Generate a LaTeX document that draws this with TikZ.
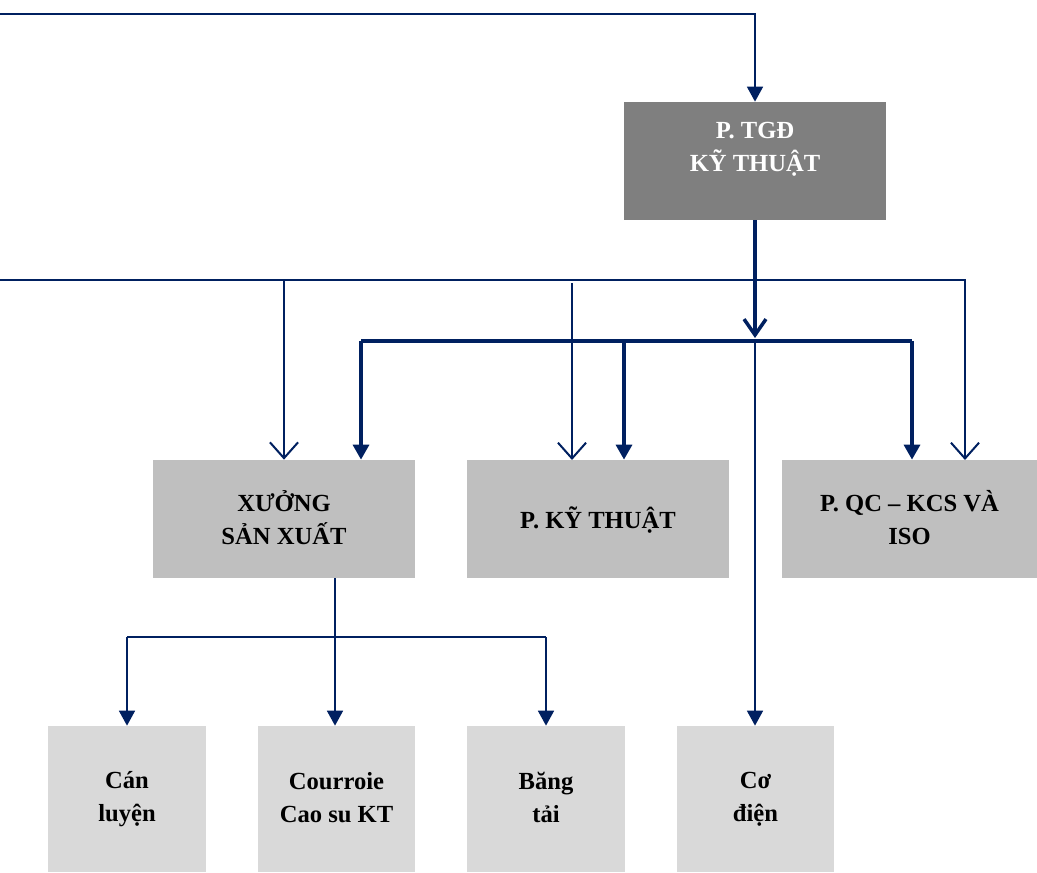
\documentclass[tikz,border=0pt]{standalone}
\usepackage{fontspec}
\setmainfont{Liberation Serif}
\usetikzlibrary{arrows.meta}
\definecolor{navy}{HTML}{002060}
\definecolor{darkbox}{HTML}{7F7F7F}
\definecolor{midbox}{HTML}{BFBFBF}
\definecolor{lowbox}{HTML}{D9D9D9}
\newcommand{\linestrut}{\rule[-2pt]{0pt}{16pt}}
\tikzset{
	unit/.style={rectangle, inner sep=0pt, align=center, font=\bfseries\fontsize{14}{18.8}\selectfont,
		execute at begin node=\linestrut, execute at end node=\linestrut},
	tgdbox/.style={unit, fill=darkbox, text=white, minimum width=5.24cm, minimum height=2.36cm},
	dept/.style={unit, fill=midbox, minimum width=5.24cm, minimum height=2.36cm},
	shop/.style={unit, fill=lowbox, minimum width=3.16cm, minimum height=2.92cm},
	link/.style={draw=navy, line width=1.15pt},
	trunk/.style={draw=navy, line width=2pt},
	solidtip/.style={-{Triangle[width=9pt,length=8.5pt]}},
	opentip/.style={-{Straight Barb[width=16pt,length=9pt]}},
	bigopentip/.style={-{Straight Barb[width=12.5pt,length=9pt]}}
}
\begin{document}
\begin{tikzpicture}[x=0.02cm, y=-0.02cm]
	\useasboundingbox (0,0) rectangle (1037,872);

	\node[tgdbox] (tgd) at (755,161) {P. TGĐ\\KỸ THUẬT\\[-5pt]\mbox{}};
	\node[dept] (xuong) at (284,519) {XƯỞNG\\SẢN XUẤT};
	\node[dept] (kythuat) at (598,519) {P. KỸ THUẬT};
	\node[dept, minimum width=5.1cm] (qc) at (909.5,519) {P. QC – KCS VÀ\\ISO};
	\node[shop] (canluyen) at (127,799) {Cán\\luyện};
	\node[shop] (courroie) at (336.5,799) {Courroie\\Cao su KT};
	\node[shop] (bangtai) at (546,799) {Băng\\tải};
	\node[shop] (codien) at (755.5,799) {Cơ\\điện};

	\coordinate (topin) at (0,14);
	\coordinate (sidein) at (0,280);
	\coordinate (busin) at (755,338);
	\coordinate (busL) at (361,341);
	\coordinate (busK) at (624,341);
	\coordinate (busR) at (912,341);
	\coordinate (shopbus) at (335,637);

	\draw[link, solidtip] (topin) -- (tgd.north |- topin) -- (tgd.north);

	\draw[trunk, bigopentip] (tgd.south) -- (busin);
	\draw[trunk] (busL) -- (busR);
	\draw[trunk, solidtip] (busL) -- (busL |- xuong.north);
	\draw[trunk, solidtip] (busK) -- (busK |- kythuat.north);
	\draw[trunk, solidtip] (busR) -- (busR |- qc.north);
	\draw[link, solidtip] (tgd.south |- busL) -- (tgd.south |- codien.north);

	\draw[link, opentip] (sidein) -- (965,280) -- (965,460);
	\draw[link, opentip] (xuong.north |- sidein) -- (xuong.north);
	\draw[link, opentip] (572,283) -- (572,460);

	\draw[link] (shopbus |- xuong.south) -- (shopbus);
	\draw[link] (canluyen.north |- shopbus) -- (bangtai.north |- shopbus);
	\draw[link, solidtip] (canluyen.north |- shopbus) -- (canluyen.north);
	\draw[link, solidtip] (shopbus) -- (shopbus |- courroie.north);
	\draw[link, solidtip] (bangtai.north |- shopbus) -- (bangtai.north);
\end{tikzpicture}
\end{document}
